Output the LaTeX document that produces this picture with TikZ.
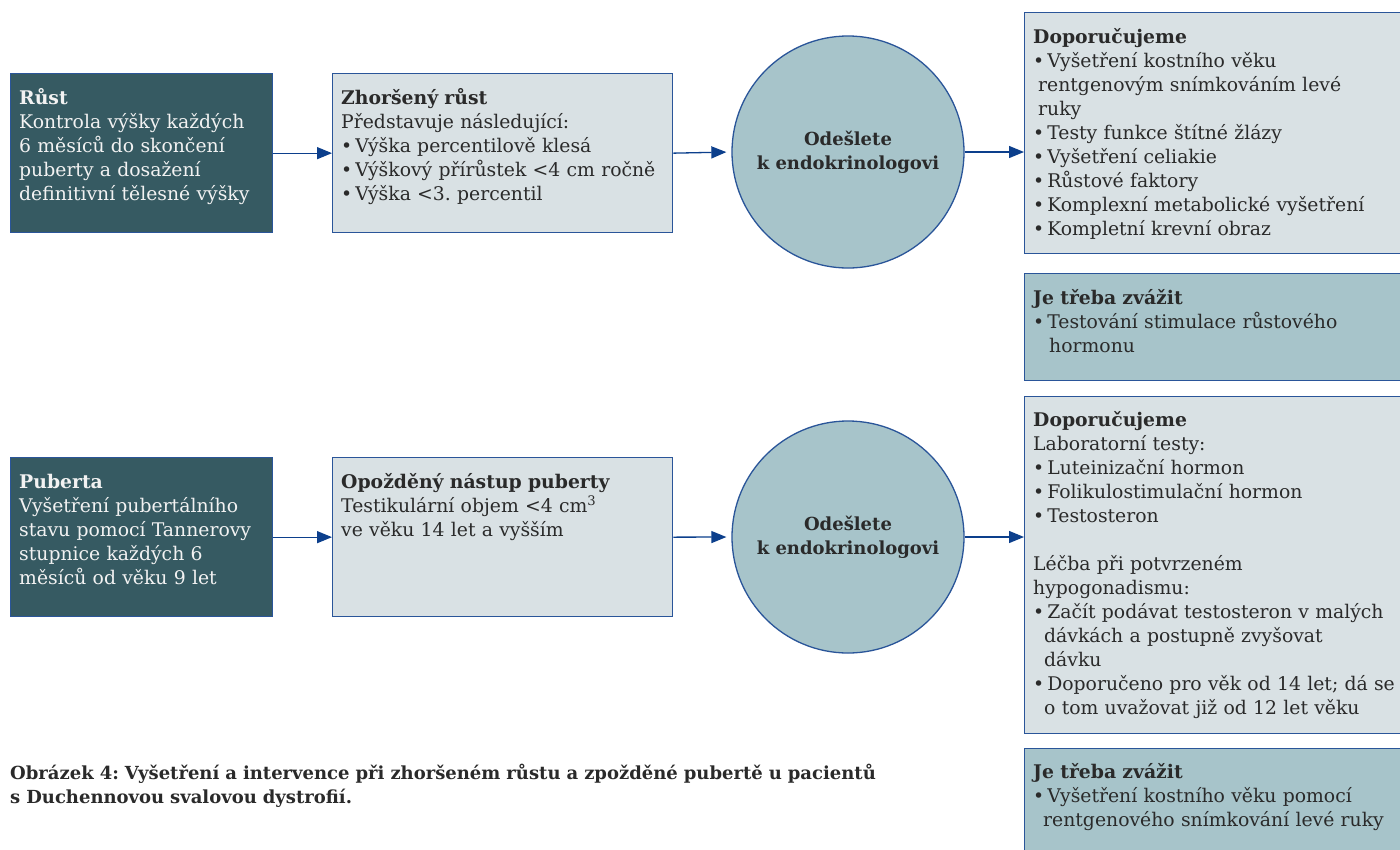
\documentclass[tikz,border=0pt]{standalone}
\usepackage{fontspec}
\setmainfont{DejaVu Serif}
\usetikzlibrary{arrows.meta,calc}
\definecolor{dteal}{HTML}{365A62}
\definecolor{lgrey}{HTML}{D9E1E4}
\definecolor{lteal}{HTML}{A7C4CA}
\definecolor{bord}{HTML}{2A5599}
\definecolor{arr}{HTML}{0C3F8C}
\definecolor{txtc}{HTML}{2A2A2A}
\definecolor{wtxt}{HTML}{F2F2F2}
\newcommand{\bul}{\textbullet\hspace{3pt}}
\frenchspacing
\begin{document}
\begin{tikzpicture}[x=1pt,y=-1pt,
 box/.style={draw=bord, line width=1.3pt, inner sep=0pt, anchor=north west, rectangle},
 darkbox/.style={box, fill=dteal},
 greybox/.style={box, fill=lgrey},
 tealbox/.style={box, fill=lteal},
 circ/.style={circle, draw=bord, line width=1.3pt, fill=lteal, minimum size=232pt, inner sep=0pt, align=center, font=\bfseries\fontsize{18}{24}\selectfont, text=txtc},
 body/.style={anchor=base west, inner sep=0pt, align=left, font=\fontsize{18.8}{24}\selectfont, text=txtc},
 wbody/.style={body, text=wtxt},
 conn/.style={draw=arr, line width=1.3pt, -{Triangle[length=15pt,width=12pt]}}
]
\useasboundingbox (0,0) rectangle (1400,849);
\fill[white] (0,0) rectangle (1400,849);

% top row
\node[darkbox, minimum width=262pt, minimum height=159pt] (b1) at (10,73) {};
\node[greybox, minimum width=340pt, minimum height=159pt] (b2) at (332,73) {};
\node[circ] (c1) at (848,152) {Odešlete\\k endokrinologovi};
\node[greybox, minimum width=386pt, minimum height=241pt] (b3) at (1024,12) {};
\node[tealbox, minimum width=386pt, minimum height=107pt] (b4) at (1024,273) {};

\node[wbody, text width=255pt] (t1) at (19,104) {\textbf{Růst}\\Kontrola výšky každých\\6 měsíců do skončení\\puberty a dosažení\\definitivní tělesné výšky};
\node[body, text width=330pt] (t2) at (341,104) {\textbf{Zhoršený růst}\\Představuje následující:\\\bul Výška percentilově klesá\\\bul Výškový přírůstek <4 cm ročně\\\bul Výška <3. percentil};
\node[body, text width=380pt] (t3) at (1033,43) {\textbf{Doporučujeme}\\\bul Vyšetření kostního věku\\\hspace*{5pt}rentgenovým snímkováním levé\\\hspace*{5pt}ruky\\\bul Testy funkce štítné žlázy\\\bul Vyšetření celiakie\\\bul Růstové faktory\\\bul Komplexní metabolické vyšetření\\\bul Kompletní krevní obraz};
\node[body, text width=380pt] (t4) at (1033,304) {\textbf{Je třeba zvážit}\\\bul Testování stimulace růstového\\\hspace*{16pt}hormonu};

% bottom row
\node[darkbox, minimum width=262pt, minimum height=159pt] (b5) at (10,457) {};
\node[greybox, minimum width=340pt, minimum height=159pt] (b6) at (332,457) {};
\node[circ] (c2) at (848,537) {Odešlete\\k endokrinologovi};
\node[greybox, minimum width=386pt, minimum height=337pt] (b7) at (1024,396) {};
\node[tealbox, minimum width=386pt, minimum height=130pt] (b8) at (1024,748) {};

\node[wbody, text width=255pt] (t5) at (19,488) {\textbf{Puberta}\\Vyšetření pubertálního\\stavu pomocí Tannerovy\\stupnice každých 6\\měsíců od věku 9 let};
\node[body, text width=330pt] (t6) at (341,488) {\textbf{Opožděný nástup puberty}\\Testikulární objem <4 cm\textsuperscript{3}\\ve věku 14 let a vyšším};
\node[body, text width=380pt] (t7) at (1033,426) {\textbf{Doporučujeme}\\Laboratorní testy:\\\bul Luteinizační hormon\\\bul Folikulostimulační hormon\\\bul Testosteron\\[24pt]Léčba při potvrzeném\\hypogonadismu:\\\bul Začít podávat testosteron v malých\\\hspace*{11pt}dávkách a postupně zvyšovat\\\hspace*{11pt}dávku\\\bul Doporučeno pro věk od 14 let; dá se\\\hspace*{11pt}o tom uvažovat již od 12 let věku};
\node[body, text width=380pt] (t8) at (1033,778) {\textbf{Je třeba zvážit}\\\bul Vyšetření kostního věku pomocí\\\hspace*{10pt}rentgenového snímkování levé ruky};

% caption
\node[body, text width=1000pt, font=\bfseries\fontsize{18}{24}\selectfont] (cap) at (10,779) {Obrázek 4: Vyšetření a intervence při zhoršeném růstu a zpožděné pubertě u pacientů\\s Duchennovou svalovou dystrofií.};

% connectors
\draw[conn] (b1) -- (b2);
\draw[conn, shorten >=5pt] (b2.east) -- (c1.west);
\draw[conn] (c1.east) -- (c1.east -| b3.west);
\draw[conn] (b5) -- (b6);
\draw[conn, shorten >=5pt] (b6.east) -- (c2.west);
\draw[conn] (c2.east) -- (c2.east -| b7.west);
\end{tikzpicture}
\end{document}
